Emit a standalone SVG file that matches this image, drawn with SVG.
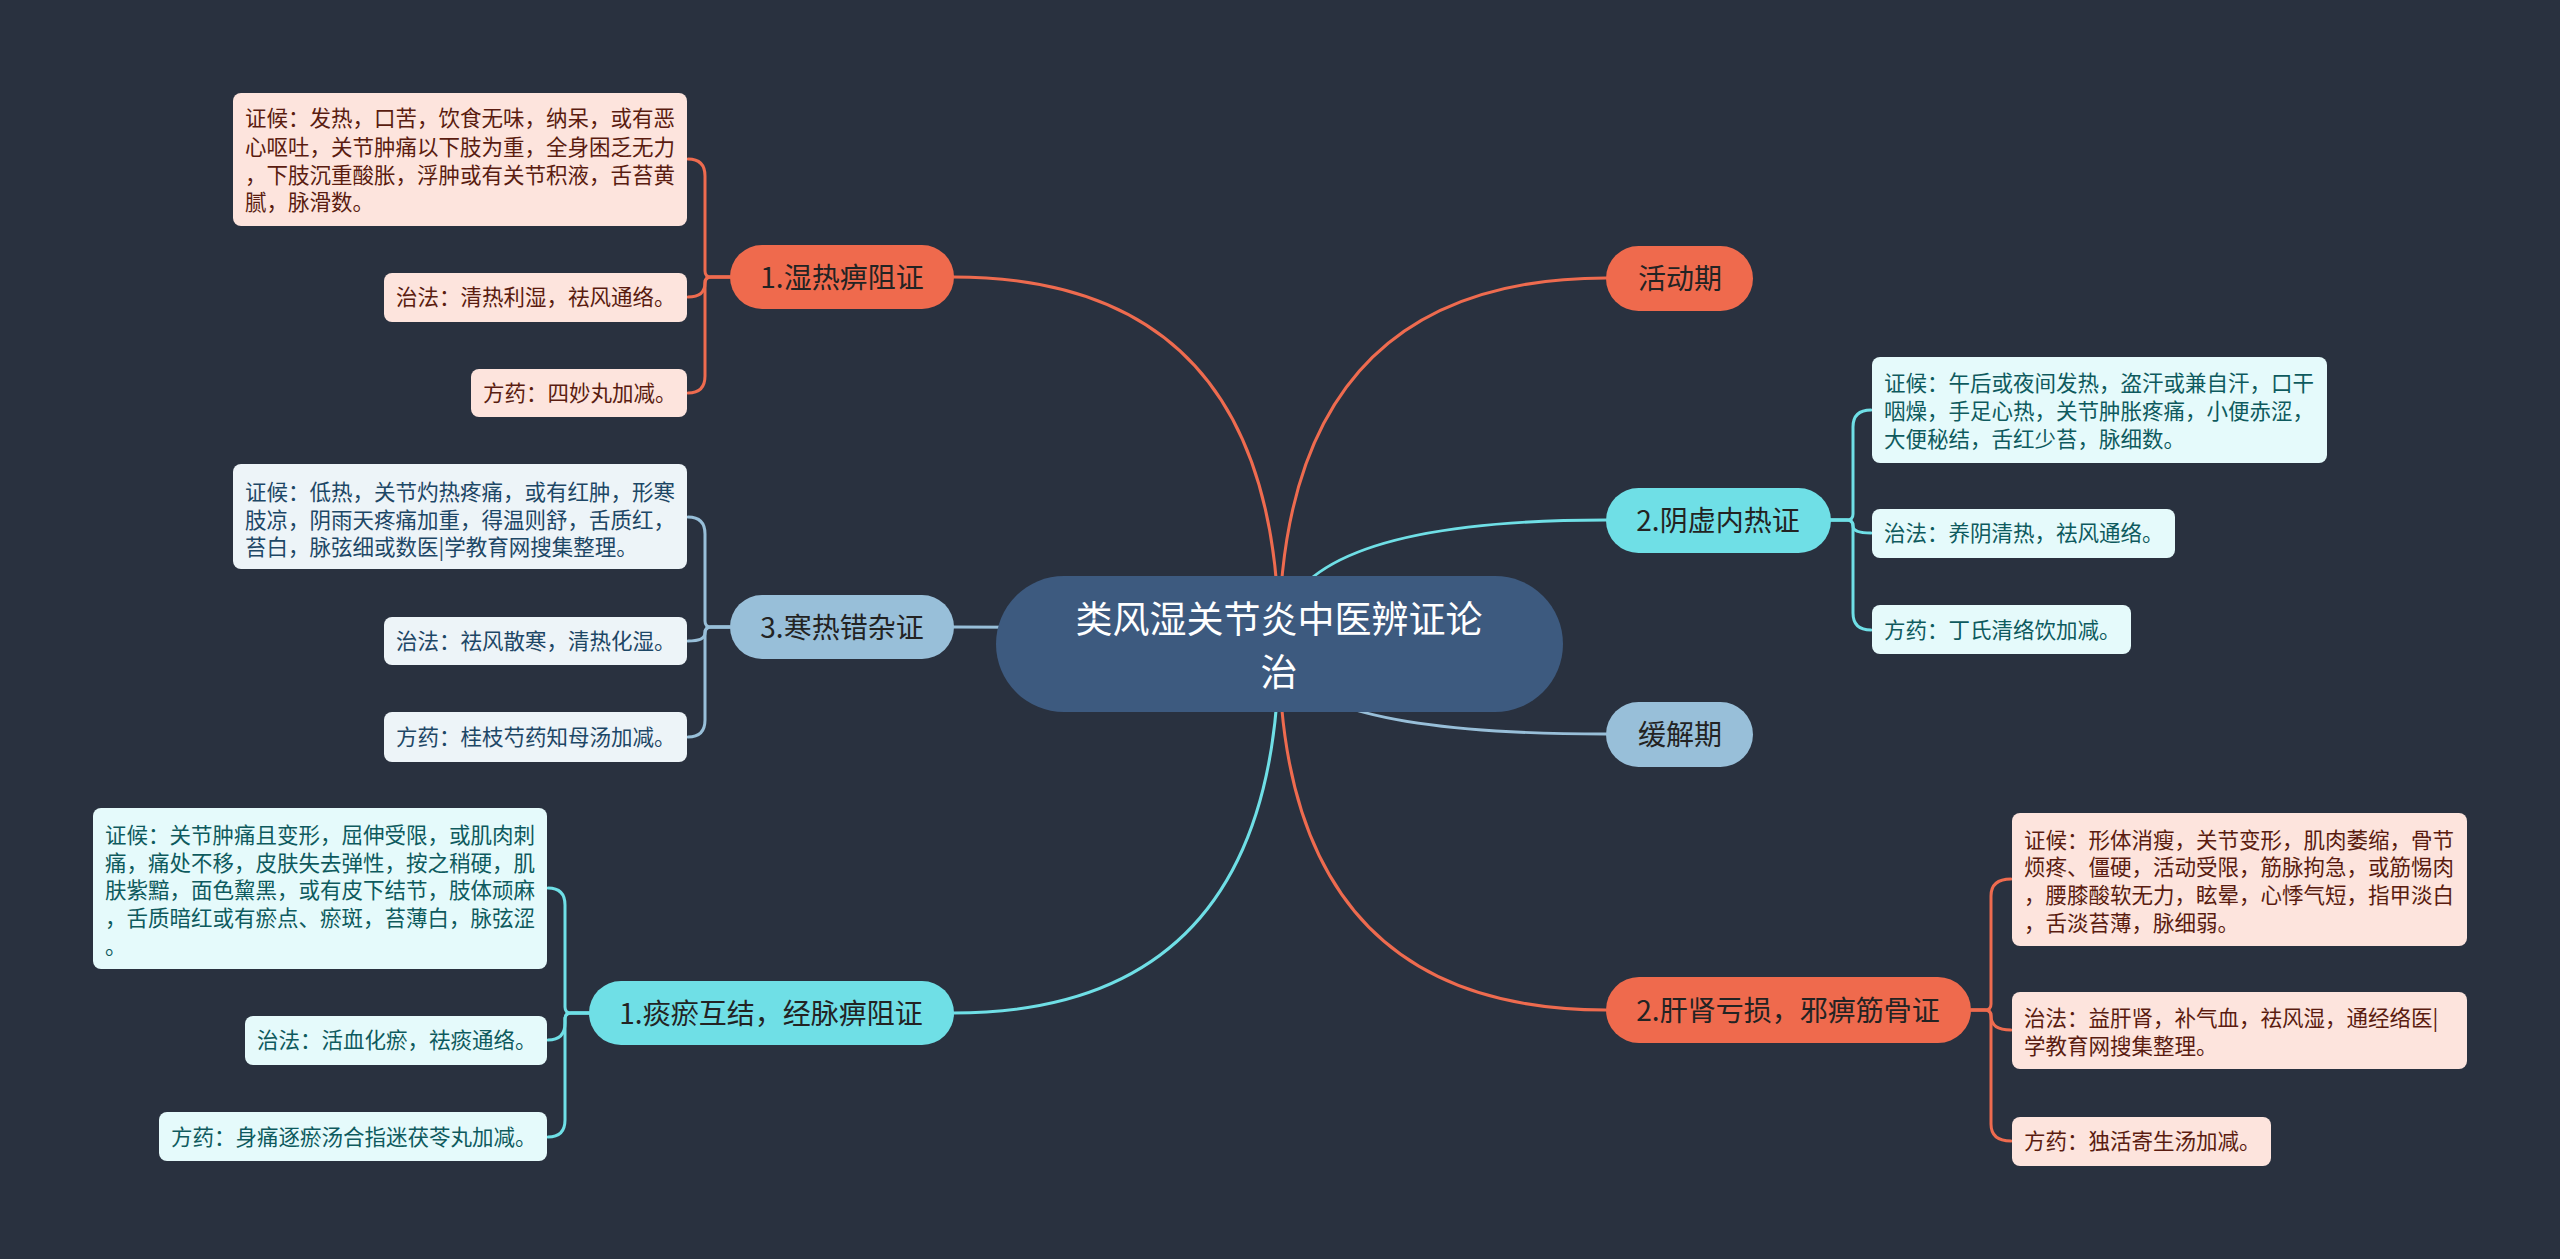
<svg xmlns="http://www.w3.org/2000/svg" width="2560" height="1259" viewBox="0 0 2560 1259">
<style>
.bg{fill:#29313f}
text{font-family:"Noto Sans CJK SC","Noto Sans",sans-serif}
.ml{fill:none;stroke-width:3;stroke-linecap:round}
.co{stroke:#ee6b4f}
.cy{stroke:#6fdfe6}
.lb{stroke:#98bfd9}
.main{font-size:28px;fill:#232323;text-anchor:middle}
.leaf{font-size:21.5px}
.fco{fill:#fde4dd}
.fcy{fill:#e5fafb}
.flb{fill:#edf4f8}
.tco{fill:#5a1c10}
.tcy{fill:#0e5a5e}
.tlb{fill:#1d4766}
</style>
<rect class="bg" x="0" y="0" width="2560" height="1259"/>
<g id="connectors">
<path class="ml co" d="M1279 644 Q1279 278 1606 278"/>
<path class="ml cy" d="M1279 644 Q1279 520 1606 520"/>
<path class="ml lb" d="M1279 644 Q1279 734 1606 734"/>
<path class="ml co" d="M1279 644 Q1279 1010 1606 1010"/>
<path class="ml co" d="M1279 644 Q1279 277 953 277"/>
<path class="ml lb" d="M1279 644 Q1279 627 953 627"/>
<path class="ml cy" d="M1279 644 Q1279 1013 953 1013"/>
<path class="ml co" d="M730 277 H711 Q705 277 705 271 V176 Q705 159 688 159"/>
<path class="ml co" d="M730 277 H711 Q705 277 705 283 V283 Q705 297 688 297"/>
<path class="ml co" d="M730 277 H711 Q705 277 705 283 V376 Q705 393 688 393"/>
<path class="ml lb" d="M730 627 H711 Q705 627 705 621 V534 Q705 517 688 517"/>
<path class="ml lb" d="M730 627 H711 Q705 627 705 633 V633 Q705 641 688 641"/>
<path class="ml lb" d="M730 627 H711 Q705 627 705 633 V720 Q705 737 688 737"/>
<path class="ml cy" d="M589 1013 H571 Q565 1013 565 1007 V905 Q565 888 548 888"/>
<path class="ml cy" d="M589 1013 H571 Q565 1013 565 1019 V1023 Q565 1040 548 1040"/>
<path class="ml cy" d="M589 1013 H571 Q565 1013 565 1019 V1120 Q565 1137 548 1137"/>
<path class="ml cy" d="M1830 520 H1847 Q1853 520 1853 514 V427 Q1853 410 1871 410"/>
<path class="ml cy" d="M1830 520 H1847 Q1853 520 1853 526 V526 Q1853 533 1871 533"/>
<path class="ml cy" d="M1830 520 H1847 Q1853 520 1853 526 V613 Q1853 630 1871 630"/>
<path class="ml co" d="M1971 1010 H1985 Q1991 1010 1991 1004 V896 Q1991 879 2011 879"/>
<path class="ml co" d="M1971 1010 H1985 Q1991 1010 1991 1016 V1016 Q1991 1030 2011 1030"/>
<path class="ml co" d="M1971 1010 H1985 Q1991 1010 1991 1016 V1124 Q1991 1141 2011 1141"/>
</g>
<g id="center">
<rect x="996" y="576" width="567" height="136" rx="68" fill="#3d5a7f"/>
<text x="1279" y="633" font-size="37" fill="#ffffff" text-anchor="middle">类风湿关节炎中医辨证论</text>
<text x="1279" y="686" font-size="37" fill="#ffffff" text-anchor="middle">治</text>
</g>
<g id="n-huodongqi">
<rect x="1606" y="246" width="147" height="65" rx="32.5" fill="#ef6a4d"/>
<text class="main" x="1680" y="289">活动期</text>
</g>
<g id="n-yinxu">
<rect x="1606" y="488" width="225" height="65" rx="32.5" fill="#6fdfe6"/>
<text class="main" x="1718" y="531">2.阴虚内热证</text>
</g>
<g id="n-huanjieqi">
<rect x="1606" y="702" width="147" height="65" rx="32.5" fill="#98bfd9"/>
<text class="main" x="1680" y="745">缓解期</text>
</g>
<g id="n-ganshen">
<rect x="1606" y="977" width="365" height="66" rx="33" fill="#ef6a4d"/>
<text class="main" x="1788" y="1021">2.肝肾亏损，邪痹筋骨证</text>
</g>
<g id="n-shire">
<rect x="730" y="245" width="224" height="64" rx="32" fill="#ef6a4d"/>
<text class="main" x="842" y="288">1.湿热痹阻证</text>
</g>
<g id="n-hanre">
<rect x="730" y="595" width="224" height="64" rx="32" fill="#98bfd9"/>
<text class="main" x="842" y="638">3.寒热错杂证</text>
</g>
<g id="n-tanyu">
<rect x="589" y="981" width="365" height="64" rx="32" fill="#6fdfe6"/>
<text class="main" x="771" y="1024">1.痰瘀互结，经脉痹阻证</text>
</g>
<g id="l-shire-zh">
<rect class="fco" x="233" y="93" width="454" height="133" rx="8"/>
<text class="leaf tco" x="245"><tspan x="245" y="126">证候：发热，口苦，饮食无味，纳呆，或有恶</tspan><tspan x="245" y="155">心呕吐，关节肿痛以下肢为重，全身困乏无力</tspan><tspan x="245" y="183">，下肢沉重酸胀，浮肿或有关节积液，舌苔黄</tspan><tspan x="245" y="210">腻，脉滑数。</tspan></text>
</g>
<g id="l-shire-zf">
<rect class="fco" x="384" y="273" width="303" height="49" rx="8"/>
<text class="leaf tco" x="396" y="305">治法：清热利湿，祛风通络。</text>
</g>
<g id="l-shire-fy">
<rect class="fco" x="471" y="369" width="216" height="48" rx="8"/>
<text class="leaf tco" x="483" y="401">方药：四妙丸加减。</text>
</g>
<g id="l-hanre-zh">
<rect class="flb" x="233" y="464" width="454" height="105" rx="8"/>
<text class="leaf tlb"><tspan x="245" y="500">证候：低热，关节灼热疼痛，或有红肿，形寒</tspan><tspan x="245" y="528">肢凉，阴雨天疼痛加重，得温则舒，舌质红，</tspan><tspan x="245" y="555">苔白，脉弦细或数医|学教育网搜集整理。</tspan></text>
</g>
<g id="l-hanre-zf">
<rect class="flb" x="384" y="617" width="303" height="48" rx="8"/>
<text class="leaf tlb" x="396" y="649">治法：祛风散寒，清热化湿。</text>
</g>
<g id="l-hanre-fy">
<rect class="flb" x="384" y="712" width="303" height="50" rx="8"/>
<text class="leaf tlb" x="396" y="745">方药：桂枝芍药知母汤加减。</text>
</g>
<g id="l-tanyu-zh">
<rect class="fcy" x="93" y="808" width="454" height="161" rx="8"/>
<text class="leaf tcy"><tspan x="105" y="843">证候：关节肿痛且变形，屈伸受限，或肌肉刺</tspan><tspan x="105" y="871">痛，痛处不移，皮肤失去弹性，按之稍硬，肌</tspan><tspan x="105" y="898">肤紫黯，面色黧黑，或有皮下结节，肢体顽麻</tspan><tspan x="105" y="926">，舌质暗红或有瘀点、瘀斑，苔薄白，脉弦涩</tspan><tspan x="105" y="954">。</tspan></text>
</g>
<g id="l-tanyu-zf">
<rect class="fcy" x="245" y="1016" width="302" height="49" rx="8"/>
<text class="leaf tcy" x="257" y="1048">治法：活血化瘀，祛痰通络。</text>
</g>
<g id="l-tanyu-fy">
<rect class="fcy" x="159" y="1112" width="388" height="49" rx="8"/>
<text class="leaf tcy" x="171" y="1145">方药：身痛逐瘀汤合指迷茯苓丸加减。</text>
</g>
<g id="r-yinxu-zh">
<rect class="fcy" x="1872" y="357" width="455" height="106" rx="8"/>
<text class="leaf tcy"><tspan x="1884" y="391">证候：午后或夜间发热，盗汗或兼自汗，口干</tspan><tspan x="1884" y="419">咽燥，手足心热，关节肿胀疼痛，小便赤涩，</tspan><tspan x="1884" y="447">大便秘结，舌红少苔，脉细数。</tspan></text>
</g>
<g id="r-yinxu-zf">
<rect class="fcy" x="1872" y="509" width="303" height="49" rx="8"/>
<text class="leaf tcy" x="1884" y="541">治法：养阴清热，祛风通络。</text>
</g>
<g id="r-yinxu-fy">
<rect class="fcy" x="1872" y="605" width="259" height="49" rx="8"/>
<text class="leaf tcy" x="1884" y="638">方药：丁氏清络饮加减。</text>
</g>
<g id="r-ganshen-zh">
<rect class="fco" x="2012" y="813" width="455" height="133" rx="8"/>
<text class="leaf tco"><tspan x="2024" y="848">证候：形体消瘦，关节变形，肌肉萎缩，骨节</tspan><tspan x="2024" y="875">烦疼、僵硬，活动受限，筋脉拘急，或筋惕肉</tspan><tspan x="2024" y="903">，腰膝酸软无力，眩晕，心悸气短，指甲淡白</tspan><tspan x="2024" y="931">，舌淡苔薄，脉细弱。</tspan></text>
</g>
<g id="r-ganshen-zf">
<rect class="fco" x="2012" y="992" width="455" height="77" rx="8"/>
<text class="leaf tco"><tspan x="2024" y="1026">治法：益肝肾，补气血，祛风湿，通经络医|</tspan><tspan x="2024" y="1054">学教育网搜集整理。</tspan></text>
</g>
<g id="r-ganshen-fy">
<rect class="fco" x="2012" y="1117" width="259" height="49" rx="8"/>
<text class="leaf tco" x="2024" y="1149">方药：独活寄生汤加减。</text>
</g>
</svg>
